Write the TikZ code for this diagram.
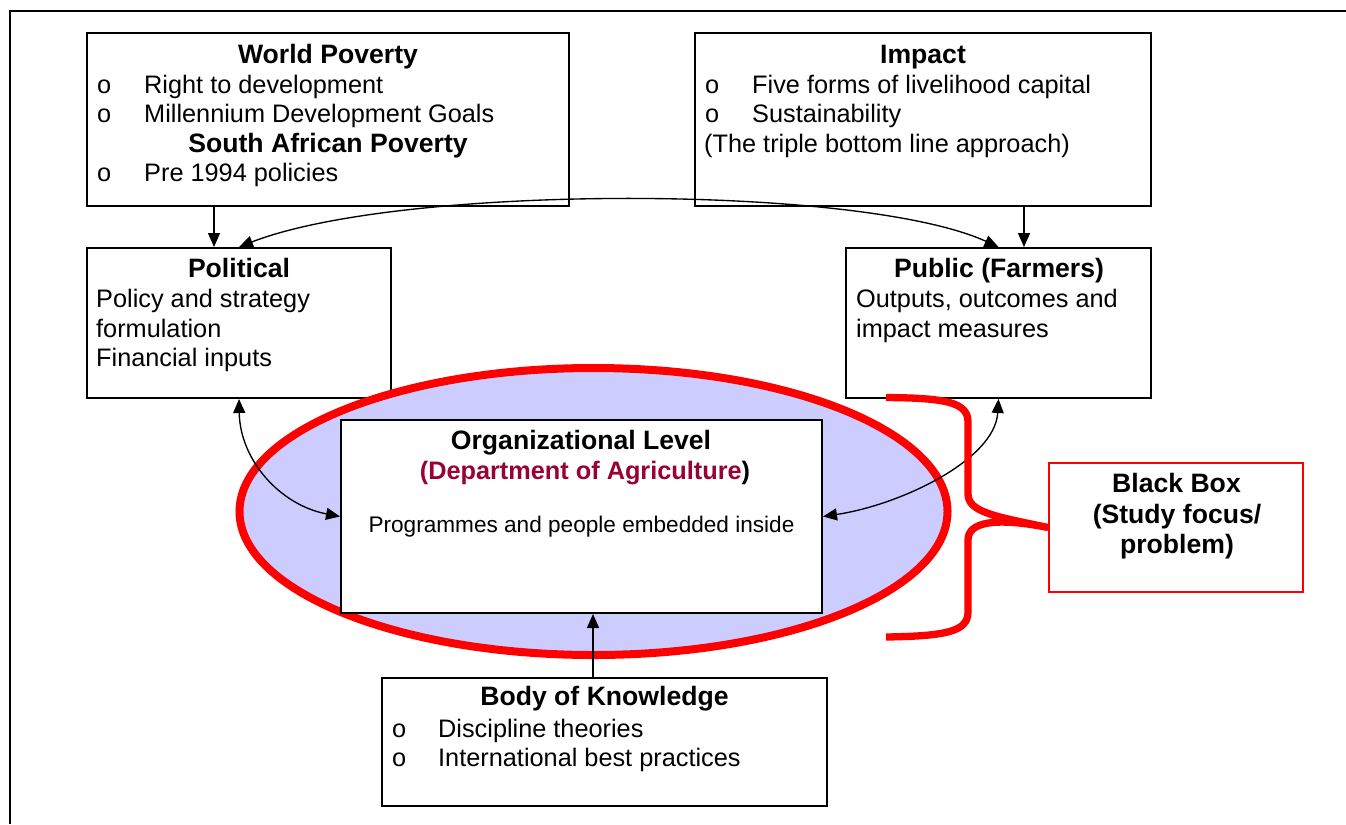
\documentclass[tikz,border=0pt]{standalone}
\usepackage{fontspec}
\setmainfont{Liberation Sans}
\usetikzlibrary{arrows.meta,fit,shapes.geometric}
\definecolor{deptcol}{RGB}{153,0,51}
\definecolor{ellfill}{RGB}{204,204,255}
\definecolor{bbred}{RGB}{255,0,0}
\begin{document}
\begin{tikzpicture}[x=1bp,y=-1bp,
  box/.style={draw, line width=2bp, fill=white, inner sep=0pt, rectangle},
  txt/.style={anchor=base west, inner sep=0pt, font=\fontsize{25.3bp}{29bp}\selectfont},
  ttl/.style={anchor=base, inner sep=0pt, font=\fontsize{26.6bp}{30bp}\selectfont\bfseries},
  con/.style={line width=1.35bp, -{Triangle[length=14bp,width=12bp]}},
  dcon/.style={line width=1.35bp, {Triangle[length=14bp,width=12bp]}-{Triangle[length=14bp,width=12bp]}},
]
\path[use as bounding box, fill=white] (0,0) rectangle (1346,824);
% outer frame (top and left edges visible)
\coordinate (frtr) at (1346,11);
\coordinate (frtl) at (9.5,11);
\coordinate (frbl) at (9.5,824);
\draw[line width=2bp] (frtr) -- (frtl) -- (frbl);

% top boxes
\coordinate (wpa) at (87,33);  \coordinate (wpb) at (569,206);
\node[box, fit=(wpa)(wpb)] (wp) {};
\coordinate (ima) at (695,33); \coordinate (imb) at (1151,206);
\node[box, fit=(ima)(imb)] (imp) {};
\coordinate (pla) at (87,248); \coordinate (plb) at (391,398);
\node[box, fit=(pla)(plb)] (pol) {};
\coordinate (pua) at (846,248); \coordinate (pub) at (1151,398);
\node[box, fit=(pua)(pub)] (pubf) {};

% World Poverty text
\node[ttl] (t1) at (328,63) {World Poverty};
\node[txt] (b1) at (97,93) {o};
\node[txt] (t2) at (144,93) {Right to development};
\node[txt] (b2) at (97,122.5) {o};
\node[txt] (t3) at (144,122.5) {Millennium Development Goals};
\node[ttl] (t4) at (328,152) {South African Poverty};
\node[txt] (b3) at (97,181) {o};
\node[txt] (t5) at (144,181) {Pre 1994 policies};

% Impact text
\node[ttl] (i1) at (923,63) {Impact};
\node[txt] (ib1) at (705,93) {o};
\node[txt] (i2) at (752,93) {Five forms of livelihood capital};
\node[txt] (ib2) at (705,122.5) {o};
\node[txt] (i3) at (752,122.5) {Sustainability};
\node[txt] (i4) at (704,152) {(The triple bottom line approach)};

% Political text
\node[ttl] (p1) at (239,277) {Political};
\node[txt] (p2) at (96,307) {Policy and strategy};
\node[txt] (p3) at (96,337) {formulation};
\node[txt] (p4) at (96,366) {Financial inputs};

% Public text
\node[ttl] (q1) at (999,277) {Public (Farmers)};
\node[txt] (q2) at (856,307) {Outputs, outcomes and};
\node[txt] (q3) at (856,337) {impact measures};

% ellipse
\node[draw=bbred, fill=ellfill, ellipse, line width=8bp, minimum width=708bp, minimum height=287bp, inner sep=0pt] (ell) at (593.5,511.5) {};

% organisational box
\coordinate (ora) at (341,420); \coordinate (orb) at (822,613);
\node[box, fit=(ora)(orb)] (org) {};
\node[ttl] (o1) at (581,449) {Organizational Level};
\node[ttl, font=\fontsize{25.3bp}{29bp}\selectfont\bfseries] (o2) at (585,479) {{\color{deptcol}(Department of Agriculture})};
\node[anchor=base, inner sep=0pt, font=\fontsize{22.6bp}{26bp}\selectfont] (o3) at (581.5,532) {Programmes and people embedded inside};

% body of knowledge box
\coordinate (bka) at (382,678); \coordinate (bkb) at (827,806);
\node[box, fit=(bka)(bkb)] (bok) {};
\node[ttl] (k1) at (604.5,705) {Body of Knowledge};
\node[txt] (kb1) at (392,737) {o};
\node[txt] (k2) at (438,737) {Discipline theories};
\node[txt] (kb2) at (392,766) {o};
\node[txt] (k3) at (438,766) {International best practices};

% connectors
\draw[con] (wp.south -| 214,0) -- (pol.north -| 214,0);
\draw[con] (imp.south -| 1024,0) -- (pubf.north -| 1024,0);
\draw[dcon] (pol.north) .. controls (400,184) and (860,184) .. (pubf.north);
\draw[dcon] (pol.south) .. controls (240,460) and (280,505) .. (org.west);
\draw[dcon] (pubf.south) .. controls (995,460) and (900,505) .. (org.east);
\draw[con] (bok.north -| 593,0) -- (org.south -| 593,0);

% black box
\coordinate (bba) at (1049,463); \coordinate (bbb) at (1303,592);
\node[draw=bbred, line width=1.6bp, fill=white, inner sep=0pt, fit=(bba)(bbb)] (bb) {};
\node[ttl] (bt1) at (1176.5,492) {Black Box};
\node[ttl] (bt2) at (1177,523) {(Study focus/};
\node[ttl] (bt3) at (1177,553) {problem)};

% brace
\coordinate (brt) at (886,397.5);
\coordinate (brb) at (886,637);
\draw[bbred, line width=7.3bp] (brt) .. controls (945,398) and (968,402) .. (968,422)
  -- (968,494) .. controls (968,512) and (995,516.5) .. (bb.west)
  .. controls (995,517) and (968,522) .. (968,540)
  -- (968,612) .. controls (968,632) and (945,636) .. (brb);
\end{tikzpicture}
\end{document}
